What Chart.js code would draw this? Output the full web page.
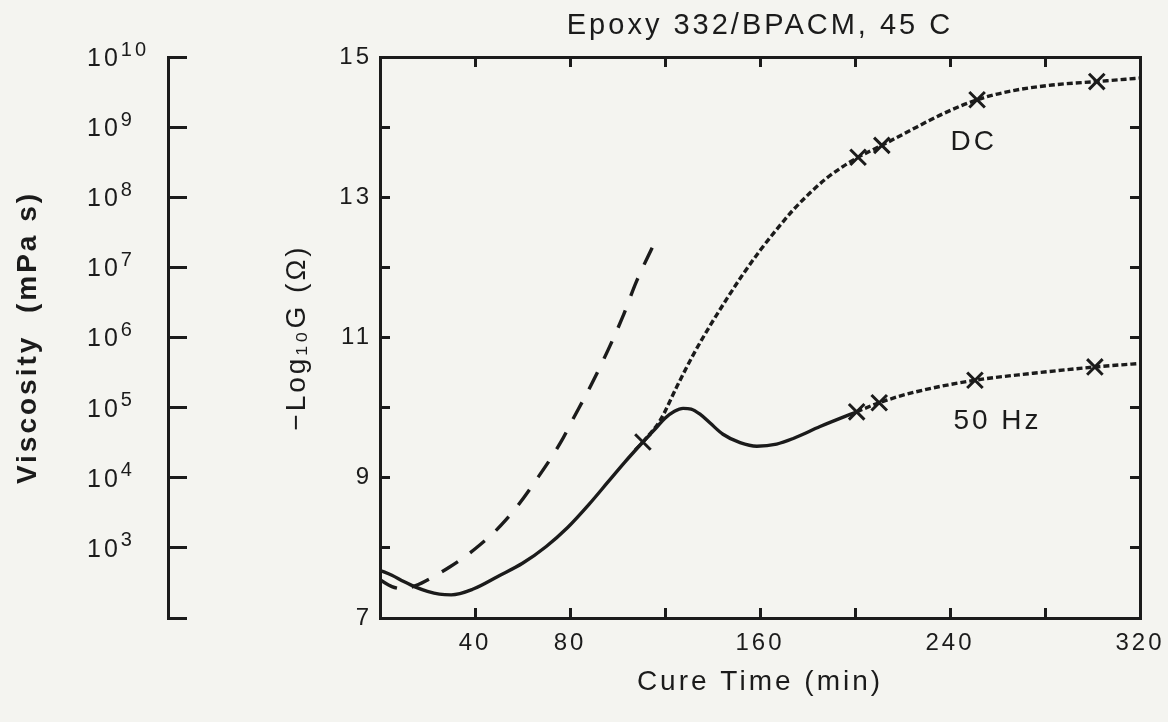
<!DOCTYPE html>
<html>
<head>
<meta charset="utf-8">
<script src="https://cdn.jsdelivr.net/npm/chart.js@4.4.1/dist/chart.umd.min.js"></script>
<style>
  body { margin: 0; background: #f4f4f0; }
  canvas { display: block; }
</style>
</head>
<body>
<canvas id="chart" width="1168" height="722"></canvas>
<script>
const ink = '#1b1b1b';
const family = '"Liberation Sans", Arial, sans-serif';

// solid curve: common start, then the 50 Hz branch up to the marker at ~200 min
const solidTime = [0, 5, 10, 15, 20, 25, 30, 39, 50, 60, 70, 79, 88, 96, 103, 110.7, 116.5, 120, 124, 127.6, 131, 135, 139, 144.4, 151.6, 158.7, 167, 174, 185.3, 200.7];
const solidLogG = [7.68, 7.61, 7.52, 7.44, 7.38, 7.34, 7.33, 7.41, 7.6, 7.78, 8.02, 8.29, 8.62, 8.94, 9.22, 9.51, 9.72, 9.85, 9.95, 9.99, 9.98, 9.9, 9.78, 9.62, 9.5, 9.45, 9.48, 9.56, 9.73, 9.94];

// dotted DC branch
const dcTime = [110.7, 118, 125, 132, 139, 146, 153, 160, 167, 174, 181, 188, 195, 201.3, 211.3, 222, 237, 251.4, 265, 283, 301.8, 320];
const dcLogG = [9.51, 9.82, 10.3, 10.76, 11.17, 11.55, 11.91, 12.24, 12.54, 12.82, 13.06, 13.27, 13.44, 13.57, 13.74, 13.93, 14.19, 14.39, 14.51, 14.6, 14.65, 14.7];

// dotted 50 Hz branch
const hzTime = [200.7, 210.2, 225, 250.5, 275, 301, 320];
const hzLogG = [9.94, 10.07, 10.22, 10.39, 10.49, 10.58, 10.63];

// dashed viscosity curve (mPa s)
const viscTime = [0, 5, 10, 15, 22, 29, 36, 42, 48, 53, 58, 66, 76, 81, 89, 96, 102, 108, 116];
const viscosity = [350, 280, 260, 290, 380, 525, 760, 1100, 1660, 2500, 4000, 9550, 31600, 66000, 214000, 661000, 1900000, 6300000, 24000000];

// x markers
const dcMarkTime = [110.7, 201.3, 211.3, 251.4, 301.8];
const dcMarkLogG = [9.51, 13.57, 13.74, 14.39, 14.65];
const hzMarkTime = [200.7, 210.2, 250.5, 301];
const hzMarkLogG = [9.94, 10.07, 10.39, 10.58];

const xTickLabels = [40, 80, 160, 240, 320];
const yTickLabels = [7, 9, 11, 13, 15];
const viscTicks = [1e2, 1e3, 1e4, 1e5, 1e6, 1e7, 1e8, 1e9, 1e10];
const viscExponents = ['', '3', '4', '5', '6', '7', '8', '9', '10'];

const curveLabels = ['DC', '50 Hz'];
const curveLabelTime = [250, 260];
const curveLabelLogG = [13.79, 9.8];

function pairs(xs, ys) {
  return xs.map((x, i) => ({ x: x, y: ys[i] }));
}

function fixSize(w, h) {
  return s => {
    if (w !== null) s.width = w;
    if (h !== null) s.height = h;
    s.paddingLeft = s.paddingRight = s.paddingTop = s.paddingBottom = 0;
  };
}

const lineStyle = { borderColor: ink, borderWidth: 3.4, pointRadius: 0, fill: false, cubicInterpolationMode: 'monotone' };
const markStyle = { type: 'scatter', showLine: false, pointStyle: 'crossRot', pointRadius: 11, pointBorderWidth: 3, borderColor: ink, backgroundColor: ink };

const axisGrid = { drawOnChartArea: false, tickLength: -10, tickWidth: 3, color: ink };
const axisBorder = { width: 3, color: ink };
const tickFont = { family: family, size: 24 };
const titleFont = { family: family, size: 28 };

const spacing = {
  id: 'spacing',
  beforeLayout(chart) { chart.ctx.letterSpacing = '3px'; },
  beforeDraw(chart) { chart.ctx.letterSpacing = '3px'; }
};

const extraText = {
  id: 'extraText',
  afterDraw(chart) {
    const ctx = chart.ctx;
    ctx.save();
    ctx.fillStyle = ink;
    ctx.letterSpacing = '3px';
    ctx.textBaseline = 'middle';

    // viscosity tick labels with superscripts
    const sv = chart.scales.yv;
    viscTicks.forEach((v, i) => {
      if (!viscExponents[i]) return;
      const y = sv.getPixelForValue(v);
      const x = sv.right - 81;
      ctx.textAlign = 'left';
      ctx.font = '25px ' + family;
      ctx.fillText('10', x, y + 2);
      const w = ctx.measureText('10').width;
      ctx.font = '20px ' + family;
      ctx.fillText(viscExponents[i], x + w, y - 7);
    });

    // curve labels
    ctx.textAlign = 'center';
    ctx.font = '28px ' + family;
    curveLabels.forEach((t, i) => {
      const px = chart.scales.x.getPixelForValue(curveLabelTime[i]);
      const py = chart.scales.y.getPixelForValue(curveLabelLogG[i]);
      ctx.fillText(t, px, py);
    });
    ctx.restore();
  }
};

new Chart(document.getElementById('chart'), {
  type: 'line',
  data: {
    datasets: [
      Object.assign({ data: pairs(viscTime, viscosity), yAxisID: 'yv', borderDash: [19, 15] }, lineStyle),
      Object.assign({ data: pairs(solidTime, solidLogG), yAxisID: 'y' }, lineStyle),
      Object.assign({ data: pairs(dcTime, dcLogG), yAxisID: 'y', borderDash: [6, 3] }, lineStyle),
      Object.assign({ data: pairs(hzTime, hzLogG), yAxisID: 'y', borderDash: [6, 3] }, lineStyle),
      Object.assign({ data: pairs(dcMarkTime, dcMarkLogG), yAxisID: 'y' }, markStyle),
      Object.assign({ data: pairs(hzMarkTime, hzMarkLogG), yAxisID: 'y' }, markStyle)
    ]
  },
  options: {
    responsive: false,
    animation: false,
    layout: { padding: 0 },
    plugins: {
      legend: { display: false },
      tooltip: { enabled: false },
      title: {
        display: true,
        text: 'Epoxy 332/BPACM, 45 C',
        fullSize: false,
        color: ink,
        font: { family: family, size: 29, weight: 'normal', lineHeight: 1.2 },
        padding: { top: 9, bottom: 0 }
      }
    },
    scales: {
      x: {
        type: 'linear', position: 'bottom', min: 0, max: 320,
        ticks: { stepSize: 40, autoSkip: false, maxRotation: 0, padding: 21, color: ink, font: tickFont,
          callback: v => xTickLabels.includes(v) ? String(v) : '' },
        grid: axisGrid, border: axisBorder,
        title: { display: true, text: 'Cure Time (min)', color: ink, font: titleFont, padding: { top: 0, bottom: 23 } },
        afterFit: fixSize(null, 104)
      },
      x2: {
        type: 'linear', position: 'top', min: 0, max: 320,
        ticks: { stepSize: 40, display: false },
        grid: axisGrid, border: axisBorder,
        afterFit: fixSize(null, 13.2)
      },
      y: {
        type: 'linear', position: 'left', min: 7, max: 15, weight: 0,
        ticks: { stepSize: 1, autoSkip: false, padding: 18, color: ink, font: tickFont,
          callback: v => yTickLabels.includes(v) ? String(v) : '' },
        grid: axisGrid, border: axisBorder,
        title: { display: true, text: '\u2212Log\u2081\u2080G (\u03A9)', color: ink, font: titleFont, padding: { top: 112, bottom: 0 } },
        afterFit: fixSize(212, null)
      },
      y2: {
        type: 'linear', position: 'right', min: 7, max: 15,
        ticks: { stepSize: 1, display: false },
        grid: axisGrid, border: axisBorder,
        afterFit: fixSize(28, null)
      },
      yv: {
        type: 'logarithmic', position: 'left', min: 1e2, max: 1e10, weight: 1,
        afterBuildTicks: s => { s.ticks = viscTicks.map(v => ({ value: v })); },
        ticks: { display: false },
        grid: { drawOnChartArea: false, tickLength: -19, tickWidth: 3, color: ink },
        border: axisBorder,
        title: { display: true, text: 'Viscosity  (mPa s)', color: ink, font: { family: family, size: 28, weight: 'bold' }, padding: { top: 11, bottom: 0 } },
        afterFit: fixSize(168, null)
      }
    }
  },
  plugins: [spacing, extraText]
});
</script>
</body>
</html>
